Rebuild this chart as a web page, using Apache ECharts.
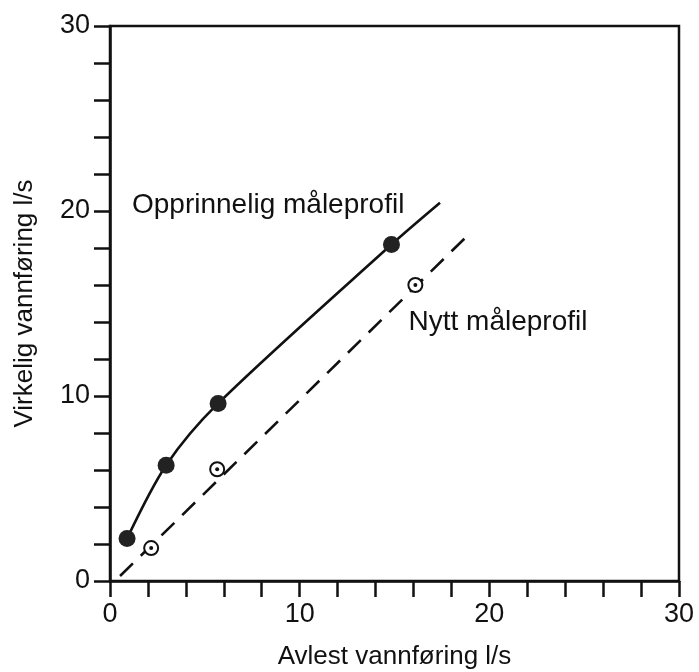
<!DOCTYPE html>
<html>
<head>
<meta charset="utf-8">
<script src="https://cdn.jsdelivr.net/npm/echarts@6/dist/echarts.min.js"></script>
<style>
html,body{margin:0;padding:0;background:#fff;}
#chart{width:699px;height:672px;}
</style>
</head>
<body>
<div id="chart"></div>
<script>
// Data
const xTickLabels = [0, 10, 20, 30];
const yTickLabels = [0, 10, 20, 30];
const originalPoints = [[0.9, 2.3], [2.96, 6.26], [5.7, 9.6], [14.84, 18.19]];
const originalCurve = [[0.9, 2.3], [2.96, 6.26], [5.7, 9.6], [14.84, 18.19], [17.4, 20.45]];
const newPoints = [[2.17, 1.78], [5.65, 6.04], [16.1, 16.0]];
const newLine = [[0.53, 0.27], [18.96, 18.78]];
const labelOriginal = 'Opprinnelig måleprofil';
const labelNew = 'Nytt måleprofil';
const xTitle = 'Avlest vannføring l/s';
const yTitle = 'Virkelig vannføring l/s';
// anchor (data coords, left/baseline) of the two annotations
const labelOriginalAt = [1.16, 19.86];
const labelNewAt = [15.74, 13.55];

const FONT = '"Liberation Sans", Arial, Helvetica, sans-serif';
const INK = '#111';

const chart = echarts.init(document.getElementById('chart'), null, {renderer: 'canvas'});

function axis(name, gap, rot, labels) {
  return {
    type: 'value', min: 0, max: 30, interval: 2,
    name: name, nameLocation: 'middle', nameGap: gap, nameRotate: rot,
    nameTextStyle: {fontFamily: FONT, fontSize: 26, color: INK},
    axisLine: {show: true, onZero: false, lineStyle: {color: INK, width: 2.5}},
    axisTick: {show: true, inside: false, length: 16, lineStyle: {color: INK, width: 2.5}},
    splitLine: {show: false},
    axisLabel: {
      fontFamily: FONT, fontSize: 27, color: INK, margin: 20,
      formatter: v => (labels.indexOf(v) >= 0 ? String(v) : '')
    }
  };
}

chart.setOption({
  animation: false,
  backgroundColor: '#fff',
  grid: {left: 110, right: 20, top: 26, bottom: 91, containLabel: false, outerBoundsMode: 'none',
         show: true, borderColor: INK, borderWidth: 2.5, backgroundColor: 'transparent'},
  xAxis: axis(xTitle, 63, 0, xTickLabels),
  yAxis: axis(yTitle, 72, 90, yTickLabels),
  series: [
    {
      type: 'line', data: originalCurve, smooth: 0.3, showSymbol: false, symbol: 'none',
      lineStyle: {color: INK, width: 2.6}, z: 2
    },
    {
      type: 'line', data: newLine, showSymbol: false, symbol: 'none',
      lineStyle: {color: INK, width: 2.6, type: [18, 11]}, z: 2
    },
    {
      type: 'scatter', data: originalPoints, symbol: 'circle', symbolSize: 17,
      itemStyle: {color: '#222', opacity: 1}, z: 3
    },
    {
      type: 'scatter', data: newPoints, symbol: 'circle', symbolSize: 14,
      itemStyle: {color: '#fff', borderColor: INK, borderWidth: 2, opacity: 1}, z: 3
    },
    {
      type: 'scatter', data: newPoints, symbol: 'circle', symbolSize: 4,
      itemStyle: {color: INK, opacity: 1}, z: 4
    }
  ]
});

const p1 = chart.convertToPixel({gridIndex: 0}, labelOriginalAt);
const p2 = chart.convertToPixel({gridIndex: 0}, labelNewAt);
const textStyle = (t) => ({text: t, fill: INK, font: '28px ' + FONT, textAlign: 'left', textVerticalAlign: 'bottom'});
chart.setOption({
  graphic: [
    {type: 'text', x: p1[0], y: p1[1] + 6, style: textStyle(labelOriginal), z: 10},
    {type: 'text', x: p2[0], y: p2[1] + 6, style: textStyle(labelNew), z: 10}
  ]
});
</script>
</body>
</html>
